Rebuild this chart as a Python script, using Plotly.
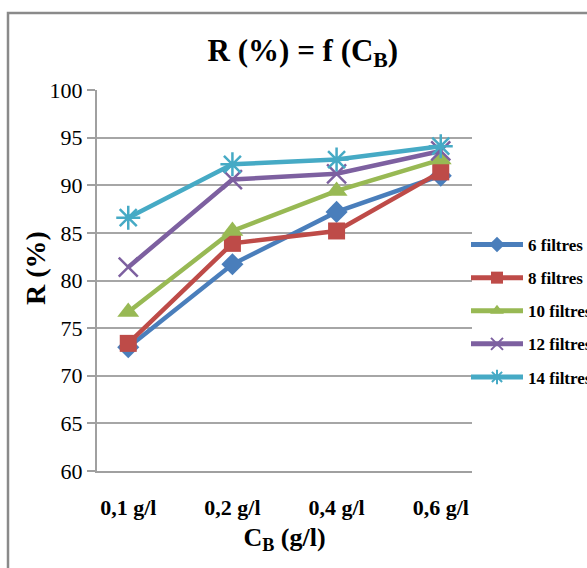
import plotly.graph_objects as go

categories = ["0,1 g/l", "0,2 g/l", "0,4 g/l", "0,6 g/l"]
series_names = ["6 filtres", "8 filtres", "10 filtres", "12 filtres", "14 filtres"]
r_6 = [73.0, 81.7, 87.2, 91.0]
r_8 = [73.4, 83.9, 85.2, 91.4]
r_10 = [76.7, 85.2, 89.4, 92.7]
r_12 = [81.4, 90.6, 91.2, 93.6]
r_14 = [86.6, 92.2, 92.7, 94.1]
y_ticks = [60, 65, 70, 75, 80, 85, 90, 95, 100]

values = [r_6, r_8, r_10, r_12, r_14]
colors = ["#4a7ebb", "#be4b48", "#98b954", "#7d60a0", "#46aac5"]
symbols = ["diamond", "square", "triangle-up", "x-thin", "asterisk"]
sizes = [17, 17, 19, 19, 20]

fig = go.Figure()
for name, vals, col, sym, sz in zip(series_names, values, colors, symbols, sizes):
    open_sym = sym in ("x-thin", "asterisk")
    fig.add_trace(go.Scatter(
        x=categories, y=vals, name="<b>" + name + "</b>", mode="lines+markers",
        legendgroup=name,
        line=dict(color=col, width=4.5),
        marker=dict(symbol=sym, size=sz, color=col,
                    line=dict(color=col, width=2.5 if open_sym else 0)),
    ))

font_serif = "Liberation Serif, Times New Roman, serif"

fig.update_layout(
    width=587, height=568,
    margin=dict(l=97, r=115, t=90, b=97, autoexpand=False),
    paper_bgcolor="white", plot_bgcolor="white",
    font=dict(family=font_serif, color="black"),
    title=dict(text="<b>R (%) = f (C<sub>B</sub>)</b>", x=0.549, xref="paper",
               xanchor="center", y=1 - 50 / 568, yref="container", yanchor="middle",
               font=dict(size=31, family=font_serif, color="black")),
    xaxis=dict(
        type="category", showgrid=False, showline=True, linecolor="#a0a0a0", linewidth=2,
        ticks="", tickfont=dict(size=22, family=font_serif), ticklabelstandoff=16,
        tickprefix="<b>", ticksuffix="</b>",
        title=dict(text="<b>C<sub>B</sub> (g/l)</b>", font=dict(size=26, family=font_serif), standoff=8),
    ),
    yaxis=dict(
        range=[60, 100], tickvals=y_ticks, showgrid=True, gridcolor="#a6a6a6", gridwidth=2,
        showline=True, linecolor="#a0a0a0", linewidth=2, ticks="outside", ticklen=8,
        tickcolor="#a0a0a0", tickwidth=2, tickfont=dict(size=22, family=font_serif),
        zeroline=False,
    ),
    legend=dict(x=(466 - 97) / 375, xanchor="left", y=(471 - 227) / 381, yanchor="top",
                font=dict(size=17, family=font_serif), itemwidth=52, tracegroupgap=8,
                bgcolor="rgba(0,0,0,0)", itemsizing="constant"),
    showlegend=True,
)

fig.add_annotation(text="<b>R (%)</b>", textangle=-90, xref="paper", yref="paper",
                   x=(35 - 97) / 375, y=(471 - 268) / 381, xanchor="center", yanchor="middle",
                   showarrow=False, font=dict(size=28, family=font_serif, color="black"))

fig.add_shape(type="rect", xref="paper", yref="paper",
              x0=(8 - 97) / 375, x1=(620 - 97) / 375,
              y0=(471 - 600) / 381, y1=(471 - 13) / 381,
              line=dict(color="#8a8a8a", width=2.5), fillcolor="rgba(0,0,0,0)", layer="below")

fig.write_html("out.html")
